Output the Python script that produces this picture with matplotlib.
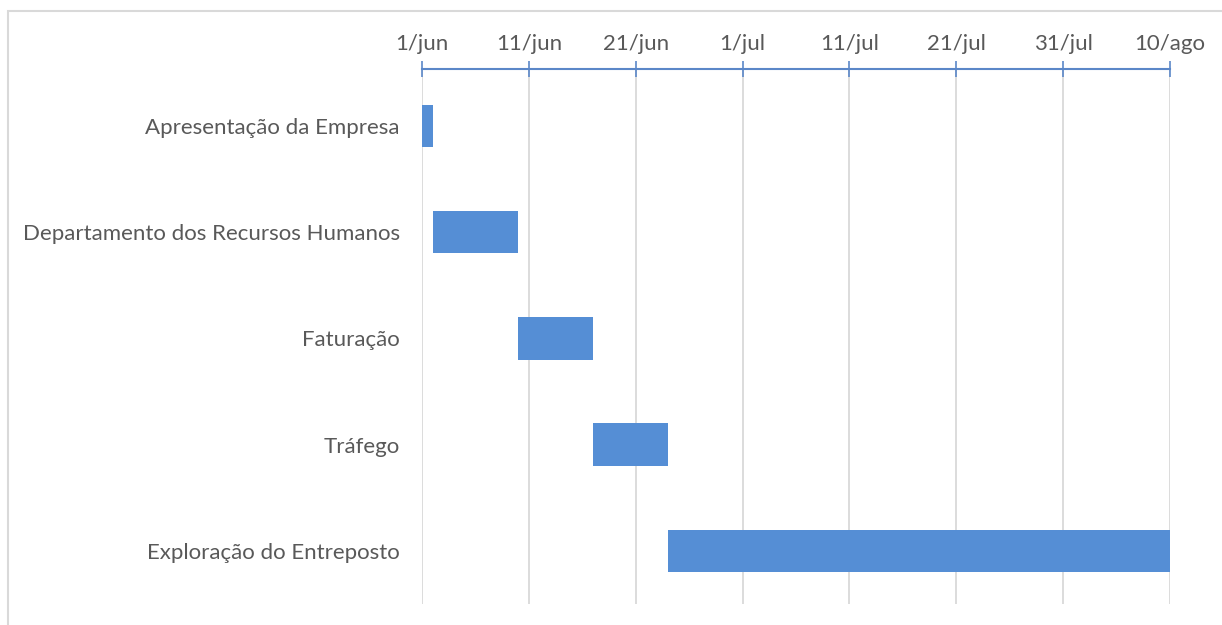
import datetime as dt

import matplotlib
matplotlib.use("Agg")
import matplotlib.dates as mdates
import matplotlib.pyplot as plt
from matplotlib.patches import Rectangle

# dados do cronograma
tarefas = [
    "Apresentação da Empresa",
    "Departamento dos Recursos Humanos",
    "Faturação",
    "Tráfego",
    "Exploração do Entreposto",
]
inicio = ["2019-06-01", "2019-06-02", "2019-06-10", "2019-06-17", "2019-06-24"]
duracao = [1, 8, 7, 7, 47]

ticks_datas = ["2019-06-01", "2019-06-11", "2019-06-21", "2019-07-01",
               "2019-07-11", "2019-07-21", "2019-07-31", "2019-08-10"]
ticks_rotulos = ["1/jun", "11/jun", "21/jun", "1/jul", "11/jul", "21/jul", "31/jul", "10/ago"]

COR_BARRA = "#558ED5"
COR_EIXO = "#5B87C8"
COR_GRELHA = "#D9D9D9"
COR_TEXTO = "#595959"

plt.rcParams["font.family"] = ["Lato", "DejaVu Sans"]

W, H = 1222, 625
fig = plt.figure(figsize=(W / 100, H / 100), dpi=100)
ax = fig.add_axes([422 / W, 1 - 604 / H, (1170 - 422) / W, (604 - 69) / H])

# moldura do gráfico
fig.patches.append(Rectangle((8 / W, -0.1), 1.2, 1 - 11 / H + 0.1,
                             transform=fig.transFigure, fill=False,
                             edgecolor=COR_GRELHA, linewidth=1.5))

starts = [mdates.date2num(dt.date.fromisoformat(d)) for d in inicio]
ax.barh(range(len(tarefas)), duracao, left=starts, height=0.4,
        color=COR_BARRA, zorder=3)

xt = [mdates.date2num(dt.date.fromisoformat(d)) for d in ticks_datas]
ax.set_xlim(xt[0], xt[-1])
ax.set_xticks(xt)
ax.set_xticklabels(ticks_rotulos)
ax.xaxis.tick_top()
ax.tick_params(axis="x", direction="inout", length=12, width=1.2,
               color=COR_EIXO, labelsize=16, labelcolor=COR_TEXTO, pad=5)
ax.grid(axis="x", color=COR_GRELHA, linewidth=1.3, zorder=0)

ax.set_ylim(4.5, -0.536)
ax.set_yticks(range(len(tarefas)))
ax.set_yticklabels(tarefas)
ax.tick_params(axis="y", length=0, labelsize=16, labelcolor=COR_TEXTO, pad=16)

for lado in ["left", "right", "bottom"]:
    ax.spines[lado].set_visible(False)
ax.spines["top"].set_color(COR_EIXO)
ax.spines["top"].set_linewidth(1.5)
ax.spines["top"].set_zorder(4)

fig.savefig("out.png", dpi=100)
